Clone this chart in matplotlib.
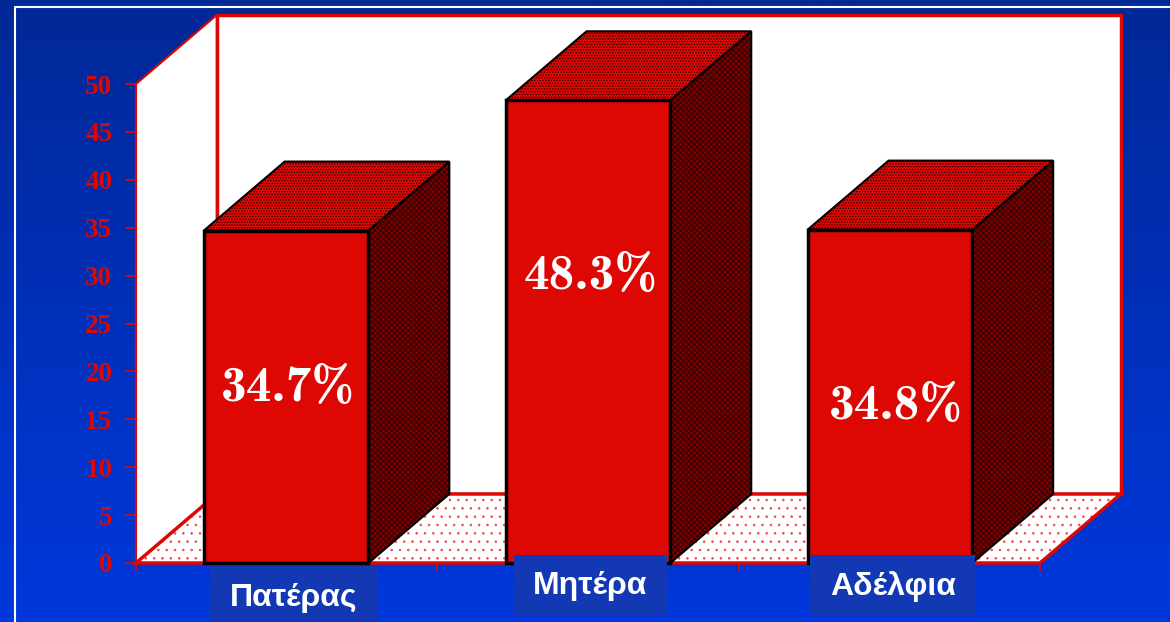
import matplotlib
matplotlib.use('Agg')
import matplotlib.pyplot as plt
import numpy as np
from matplotlib.patches import Polygon, Rectangle

W, H = 1170, 622

categories = ['Πατέρας', 'Μητέρα', 'Αδέλφια']
values = [34.7, 48.3, 34.8]
value_labels = ['34.7%', '48.3%', '34.8%']
yticks = [0, 5, 10, 15, 20, 25, 30, 35, 40, 45, 50]

RED = '#dd0804'
DEPTH_X = 81 / 302
DEPTH_Y = 69 / 9.58


def px_axes(fig, left, top, right, bottom):
    return fig.add_axes([left / W, 1 - bottom / H, (right - left) / W, (bottom - top) / H])


def poly(ax, pts, **kw):
    p = Polygon(pts, closed=True, clip_on=False, **kw)
    ax.add_patch(p)
    return p


plt.rcParams['hatch.linewidth'] = 0.6
fig = plt.figure(figsize=(W / 100, H / 100), dpi=100)

# background gradient and frame
bg = fig.add_axes([0, 0, 1, 1], zorder=0)
grad = np.linspace(0, 1, 256).reshape(-1, 1, 1)
top_c = np.array([0, 40, 150]).reshape(1, 1, 3) / 255
bot_c = np.array([0, 56, 220]).reshape(1, 1, 3) / 255
bg.imshow(top_c * (1 - grad) + bot_c * grad, aspect='auto', extent=[0, W, H, 0])
bg.set_xlim(0, W)
bg.set_ylim(H, 0)
bg.axis('off')
bg.plot([14.5, 14.5, W], [H, 7, 7], color='white', lw=1.5)

ax = px_axes(fig, 136, 84, 1040, 563)
ax.set_zorder(1)
ax.patch.set_alpha(0)
ax.set_xlim(0, 3)
ax.set_ylim(0, 50)

# walls and floor
poly(ax, [(0, 0), (DEPTH_X, DEPTH_Y), (DEPTH_X, 50 + DEPTH_Y), (0, 50)], fc='white', ec=RED, lw=1.5)
poly(ax, [(DEPTH_X, DEPTH_Y), (3 + DEPTH_X, DEPTH_Y), (3 + DEPTH_X, 50 + DEPTH_Y), (DEPTH_X, 50 + DEPTH_Y)],
     fc='white', ec=RED, lw=2.5)
poly(ax, [(0, 0), (3, 0), (3 + DEPTH_X, DEPTH_Y), (DEPTH_X, DEPTH_Y)], fc='white', ec='#f04848', hatch='..', lw=0)
poly(ax, [(0, 0), (3, 0), (3 + DEPTH_X, DEPTH_Y), (DEPTH_X, DEPTH_Y)], fc='none', ec=RED, lw=2.5)

# bars
bar_w = 165 / 302
for i, v in enumerate(values):
    x0 = i + 68 / 302 + i * 0.002
    x1 = x0 + bar_w
    side = [(x1, 0), (x1 + DEPTH_X, DEPTH_Y), (x1 + DEPTH_X, v + DEPTH_Y), (x1, v)]
    top = [(x0, v), (x1, v), (x1 + DEPTH_X, v + DEPTH_Y), (x0 + DEPTH_X, v + DEPTH_Y)]
    poly(ax, side, fc='#7c0000', ec='#2a0000', hatch='xxxxxx', lw=0, zorder=3)
    poly(ax, side, fc='none', ec='black', lw=1.5, zorder=3)
    poly(ax, top, fc=RED, ec='#180000', hatch='......', lw=0, zorder=3)
    poly(ax, top, fc='none', ec='black', lw=1.5, zorder=3)
    ax.add_patch(Rectangle((x0, 0), bar_w, v, fc=RED, ec='black', lw=2.5, clip_on=False, zorder=4))

# axis
for s in ['top', 'right']:
    ax.spines[s].set_visible(False)
for s in ['left', 'bottom']:
    ax.spines[s].set_color(RED)
    ax.spines[s].set_linewidth(1.5)
ax.set_yticks(yticks)
ax.set_xticks([0, 1, 2, 3])
ax.set_xticklabels([])
ax.tick_params(axis='y', color=RED, width=1.2, length=8, labelcolor=RED, pad=9)
ax.tick_params(axis='x', color=RED, width=1.2, length=6)
for t in ax.get_yticklabels():
    t.set_family('Liberation Serif')
    t.set_fontweight('bold')
    t.set_fontsize(19.5)

# overlay text in pixel space
over = fig.add_axes([0, 0, 1, 1], zorder=5)
over.set_xlim(0, W)
over.set_ylim(H, 0)
over.axis('off')
over.patch.set_alpha(0)

boxes = [(210, 566, 378, 622), (514, 555, 667, 615), (810, 555, 975, 615)]
cat_y = [598, 586, 587]
cat_x = [294, 590, 893]
for (l, t, r, b), name, cx, cy in zip(boxes, categories, cat_x, cat_y):
    over.add_patch(Rectangle((l, t), r - l, b - t, fc='#1238b4', ec='none'))
    over.text(cx, cy, name, color='white', fontsize=23, family='Liberation Sans', fontweight='bold',
              ha='center', va='center')

val_x = [288, 591, 896]
val_y = [389, 276, 406]
for x, y, s in zip(val_x, val_y, value_labels):
    over.text(x, y, s, color='white', fontsize=37, family=['cmb10', 'DejaVu Serif'], fontweight='bold',
              ha='center', va='center')

fig.savefig('out.png', dpi=100)
